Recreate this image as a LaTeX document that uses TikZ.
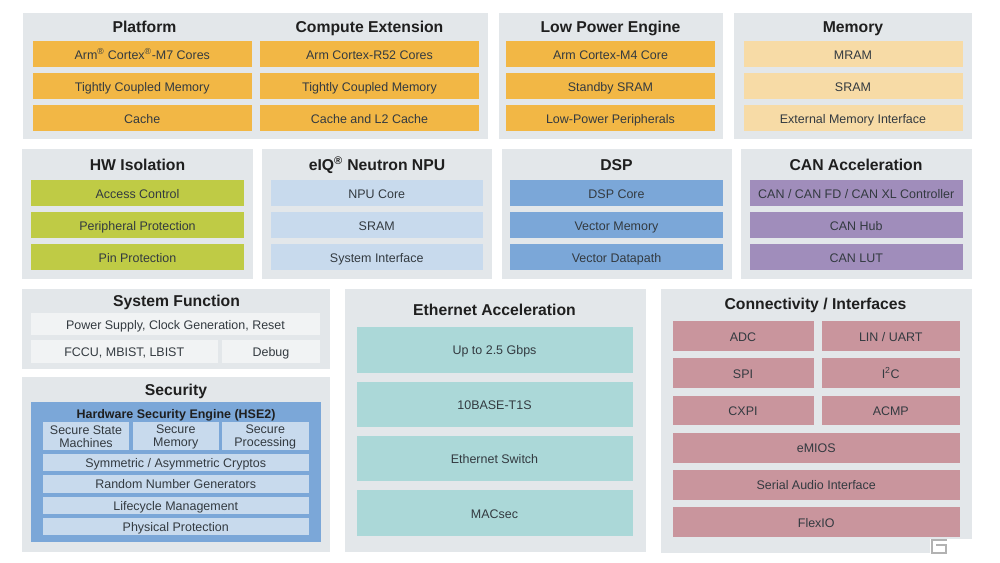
\documentclass[tikz,border=0pt]{standalone}
\usepackage{fontspec}
\setmainfont{Liberation Sans}

\definecolor{panelgray}{HTML}{E3E7EA}
\definecolor{coreorange}{HTML}{F2B745}
\definecolor{memorange}{HTML}{F7DBA6}
\definecolor{isogreen}{HTML}{BFCB45}
\definecolor{npublue}{HTML}{C8DAED}
\definecolor{dspblue}{HTML}{7BA7D8}
\definecolor{canpurple}{HTML}{A08DBB}
\definecolor{ethteal}{HTML}{ABD8D8}
\definecolor{ifrose}{HTML}{C9959D}
\definecolor{sysgray}{HTML}{F1F3F4}
\definecolor{labelgray}{HTML}{333A40}

\tikzset{
  span/.style n args={4}{at={({(#1+#3)/2},{(#2+#4)/2})},
    minimum width={(#3-#1)*0.75pt},minimum height={(#4-#2)*0.75pt}},
  panel/.style={fill=panelgray,inner sep=0pt,outer sep=0pt},
  title/.style={font=\fontsize{11.8}{13}\selectfont\bfseries,text=black!88,inner sep=0pt,
    text height=8.5pt,text depth=0pt},
  blk/.style={inner sep=0pt,outer sep=0pt,align=center,text=labelgray,
    font=\fontsize{9.35}{10}\selectfont},
  oneline/.style={blk,text height=7.7pt,text depth=0pt},
  twoline/.style={blk,fill=npublue,text height=7.7pt},
  corebox/.style={oneline,fill=coreorange},
  membox/.style={oneline,fill=memorange},
  isobox/.style={oneline,fill=isogreen},
  npubox/.style={oneline,fill=npublue},
  dspbox/.style={oneline,fill=dspblue},
  canbox/.style={oneline,fill=canpurple},
  ethbox/.style={oneline,fill=ethteal},
  ifbox/.style={oneline,fill=ifrose},
  sysbox/.style={oneline,fill=sysgray}
}

\begin{document}
\begin{tikzpicture}[x=0.75pt,y=-0.75pt]
\useasboundingbox (0,0) rectangle (1000,563);

% grey panels
\node (toppanel) [panel,span={22.5}{13}{487.5}{139.5}] {};
\node (lowpanel) [panel,span={498.5}{13}{723}{139.5}] {};
\node (mempanel) [panel,span={734}{13}{971.5}{139.5}] {};
\node (isopanel) [panel,span={22}{149.5}{253}{279}] {};
\node (npupanel) [panel,span={262}{149.5}{492}{279}] {};
\node (dsppanel) [panel,span={501.5}{149.5}{731.5}{279}] {};
\node (canpanel) [panel,span={741}{149.5}{971.5}{279}] {};
\node (syspanel) [panel,span={22}{289}{330}{369}] {};
\node (secpanel) [panel,span={22}{377}{330}{552}] {};
\node (ethpanel) [panel,span={344.5}{289}{646}{552}] {};
\node (ifpanel) [panel,span={661}{289}{972}{553}] {};

% panel titles
\node (plattitle) [title] at (144.5,26.5) {Platform};
\node (comptitle) [title] at (369.5,26.5) {Compute Extension};
\node (lowtitle) [title] at (610.5,26.5) {Low Power Engine};
\node (memtitle) [title] at (853,26.5) {Memory};
\node (isotitle) [title] at (137.5,165) {HW Isolation};
\node (nputitle) [title] at (377,165) {eIQ\textsuperscript{®} Neutron NPU};
\node (dsptitle) [title] at (616.5,165) {DSP};
\node (cantitle) [title] at (856,165) {CAN Acceleration};
\node (systitle) [title] at (176.5,301) {System Function};
\node (sectitle) [title] at (176,390) {Security};
\node (ethtitle) [title] at (494.5,310) {Ethernet Acceleration};
\node (iftitle) [title] at (815.5,304) {Connectivity / Interfaces};

% first row
\node (plat1) [corebox,span={32.5}{41.5}{252}{67.5}] {Arm\textsuperscript{®} Cortex\textsuperscript{®}-M7 Cores};
\node (plat2) [corebox,span={32.5}{73.5}{252}{99}] {Tightly Coupled Memory};
\node (plat3) [corebox,span={32.5}{105}{252}{131}] {Cache};

\node (comp1) [corebox,span={260}{41.5}{479}{67.5}] {Arm Cortex-R52 Cores};
\node (comp2) [corebox,span={260}{73.5}{479}{99}] {Tightly Coupled Memory};
\node (comp3) [corebox,span={260}{105}{479}{131}] {Cache and L2 Cache};

\node (low1) [corebox,span={506}{41.5}{715}{67.5}] {Arm Cortex-M4 Core};
\node (low2) [corebox,span={506}{73.5}{715}{99}] {Standby SRAM};
\node (low3) [corebox,span={506}{105}{715}{131}] {Low-Power Peripherals};

\node (mem1) [membox,span={743.5}{41.5}{962.5}{67.5}] {MRAM};
\node (mem2) [membox,span={743.5}{73.5}{962.5}{99}] {SRAM};
\node (mem3) [membox,span={743.5}{105}{962.5}{131}] {External Memory Interface};

% second row
\node (iso1) [isobox,span={31}{180.5}{244}{206.5}] {Access Control};
\node (iso2) [isobox,span={31}{212.5}{244}{238.5}] {Peripheral Protection};
\node (iso3) [isobox,span={31}{244}{244}{270}] {Pin Protection};

\node (npu1) [npubox,span={270.5}{180.5}{483}{206.5}] {NPU Core};
\node (npu2) [npubox,span={270.5}{212.5}{483}{238.5}] {SRAM};
\node (npu3) [npubox,span={270.5}{244}{483}{270}] {System Interface};

\node (dsp1) [dspbox,span={510}{180.5}{723}{206.5}] {DSP Core};
\node (dsp2) [dspbox,span={510}{212.5}{723}{238.5}] {Vector Memory};
\node (dsp3) [dspbox,span={510}{244}{723}{270}] {Vector Datapath};

\node (can1) [canbox,span={750}{180.5}{962.5}{206.5}] {CAN / CAN FD / CAN XL Controller};
\node (can2) [canbox,span={750}{212.5}{962.5}{238.5}] {CAN Hub};
\node (can3) [canbox,span={750}{244}{962.5}{270}] {CAN LUT};

% system function
\node (sys1) [sysbox,span={31}{313}{320}{335}] {Power Supply, Clock Generation, Reset};
\node (sys2) [sysbox,span={31}{340}{217.5}{363}] {FCCU, MBIST, LBIST};
\node (sys3) [sysbox,span={222}{340}{320}{363}] {Debug};

% security
\node (hse) [panel,fill=dspblue,span={31}{402}{321}{542}] {};
\node (hsetitle) [oneline,text=black!88,font=\fontsize{9.35}{10}\selectfont\bfseries] at (176,413) {Hardware Security Engine (HSE2)};
\fill[npublue] (43,422) rectangle (129,450);
\fill[npublue] (132.5,422) rectangle (219,450);
\fill[npublue] (222,422) rectangle (308.5,450);
\node (sec1) [blk] at (86,437) {Secure State\\Machines};
\node (sec2) [blk] at (175.75,437) {Secure\\Memory};
\node (sec3) [blk] at (265.25,437) {Secure\\Processing};
\node (sec4) [npubox,span={43}{454}{308.5}{471}] {Symmetric / Asymmetric Cryptos};
\node (sec5) [npubox,span={43}{475}{308.5}{492.5}] {Random Number Generators};
\node (sec6) [npubox,span={43}{496.5}{308.5}{513.5}] {Lifecycle Management};
\node (sec7) [npubox,span={43}{517.5}{308.5}{535}] {Physical Protection};

% ethernet
\node (eth1) [ethbox,span={356.5}{327}{632.5}{372.5}] {Up to 2.5 Gbps};
\node (eth2) [ethbox,span={356.5}{381.5}{632.5}{427}] {10BASE-T1S};
\node (eth3) [ethbox,span={356.5}{436}{632.5}{481}] {Ethernet Switch};
\node (eth4) [ethbox,span={356.5}{490}{632.5}{536}] {MACsec};

% connectivity
\node (if1) [ifbox,span={672.5}{321}{813.5}{351}] {ADC};
\node (if2) [ifbox,span={821.5}{321}{960}{351}] {LIN / UART};
\node (if3) [ifbox,span={672.5}{358}{813.5}{388}] {SPI};
\node (if4) [ifbox,span={821.5}{358}{960}{388}] {I\textsuperscript{2}C};
\node (if5) [ifbox,span={672.5}{395.5}{813.5}{425}] {CXPI};
\node (if6) [ifbox,span={821.5}{395.5}{960}{425}] {ACMP};
\node (if7) [ifbox,span={672.5}{432.5}{960}{462.5}] {eMIOS};
\node (if8) [ifbox,span={672.5}{470}{960}{499.5}] {Serial Audio Interface};
\node (if9) [ifbox,span={672.5}{507}{960}{537}] {FlexIO};

% corner mark
\fill[white] (930,539) rectangle (972,553);
\draw[gray!60,line width=1pt] (947,553) -- (932,553) -- (932,540) -- (947,540);
\draw[gray!60,line width=1pt] (936,545) -- (946,545) -- (946,553);
\end{tikzpicture}
\end{document}
